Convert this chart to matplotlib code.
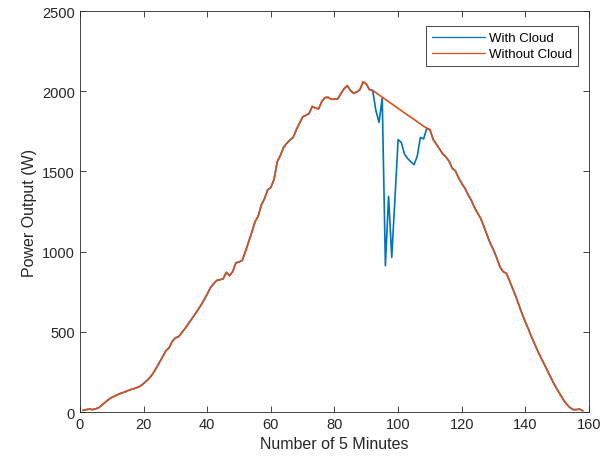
import numpy as np
import matplotlib
matplotlib.use("Agg")
import matplotlib.pyplot as plt

plt.rcParams['font.family'] = ['Liberation Sans', 'DejaVu Sans']

# time index (number of 5 minutes)
x = np.arange(1, 159)

# clear-sky output (W)
without_cloud = [
    10, 15, 18, 15, 20, 28, 45, 62, 78, 91,
    100, 110, 118, 124, 133, 140, 146, 153, 162, 178,
    195, 215, 242, 275, 310, 345, 382, 400, 440, 462,
    470, 495, 520, 548, 575, 605, 635, 665, 700, 735,
    775, 800, 820, 825, 830, 871, 850, 875, 930, 935,
    945, 1000, 1060, 1120, 1185, 1220, 1290, 1330, 1385, 1400,
    1450, 1560, 1600, 1650, 1675, 1695, 1712, 1760, 1800, 1840,
    1850, 1860, 1905, 1895, 1890, 1935, 1960, 1962, 1950, 1950,
    1952, 1985, 2015, 2035, 2005, 1987, 1995, 2010, 2059, 2045,
    2010, 2005, 1991, 1977, 1963, 1949, 1935, 1921, 1907, 1893,
    1879, 1865, 1851, 1838, 1824, 1810, 1796, 1782, 1770, 1760,
    1700, 1670, 1640, 1610, 1590, 1565, 1520, 1504, 1460, 1425,
    1395, 1355, 1320, 1275, 1240, 1205, 1155, 1100, 1050, 1010,
    960, 905, 875, 865, 820, 770, 720, 665, 610, 560,
    515, 465, 420, 375, 335, 295, 255, 215, 175, 140,
    108, 75, 48, 28, 15, 15, 18, 8,
]

# cloudy period (x = 93..109)
cloud_start = 93
cloud_values = [1880, 1806, 1956, 912, 1345, 964, 1330, 1698, 1681,
                1608, 1580, 1560, 1542, 1594, 1712, 1702, 1768]

with_cloud = list(without_cloud)
for i, v in enumerate(cloud_values):
    with_cloud[cloud_start - 1 + i] = v

fig = plt.figure(figsize=(6.1, 4.64), dpi=100)
ax = fig.add_axes([0.1311, 0.1099, 0.8345, 0.8642])

ax.plot(x, with_cloud, color='#0072BD', lw=1.2, label='With Cloud')
ax.plot(x, without_cloud, color='#D95319', lw=1.2, label='Without Cloud')

ax.set_xlim(0, 160)
ax.set_ylim(0, 2500)
ax.set_xticks(np.arange(0, 161, 20))
ax.set_yticks(np.arange(0, 2501, 500))
ax.tick_params(direction='in', top=True, right=True, labelsize=10.5,
               colors='#262626', length=4, width=0.6)
for s in ax.spines.values():
    s.set_color('#262626')
    s.set_linewidth(0.6)

ax.set_xlabel('Number of 5 Minutes', fontsize=11.5, color='#262626')
ax.set_ylabel('Power Output (W)', fontsize=11.5, color='#262626')

leg = ax.legend(loc='upper right', bbox_to_anchor=(0.978, 0.9626),
                borderaxespad=0, fontsize=9.5, fancybox=False,
                edgecolor='#262626', framealpha=1, borderpad=0.45,
                handlelength=4.0, handletextpad=0.3, labelspacing=0.3)
leg.get_frame().set_linewidth(0.6)
for h in leg.get_lines():
    h.set_linewidth(0.9)

fig.savefig('out.png', dpi=100)
